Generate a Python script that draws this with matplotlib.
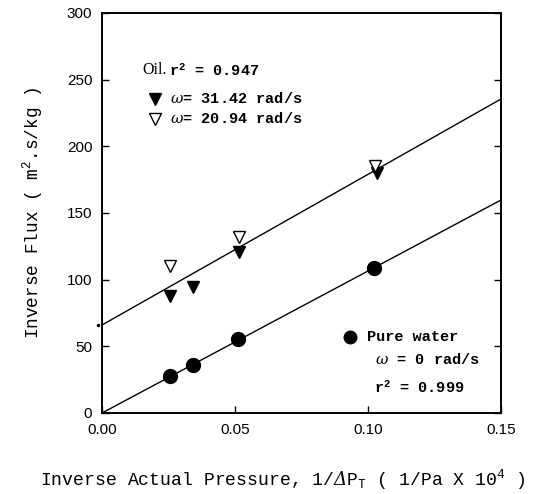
import numpy as np
import matplotlib
matplotlib.use("Agg")
import matplotlib.pyplot as plt

plt.rcParams["mathtext.fontset"] = "custom"
plt.rcParams["mathtext.rm"] = "Liberation Mono"
plt.rcParams["mathtext.it"] = "DejaVu Serif:italic"
plt.rcParams["mathtext.bf"] = "Liberation Mono:bold"
plt.rcParams["mathtext.sf"] = "DejaVu Serif:italic"

# Pure water, omega = 0 rad/s
water_x = [0.0256, 0.0342, 0.0513, 0.1021]
water_y = [27.5, 36.3, 55.5, 108.8]

# Oil, omega = 31.42 rad/s
oil_fast_x = [0.0256, 0.0342, 0.0516, 0.1034]
oil_fast_y = [88.0, 94.5, 120.8, 180.0]

# Oil, omega = 20.94 rad/s
oil_slow_x = [0.0256, 0.0516, 0.1028]
oil_slow_y = [110.0, 132.0, 185.0]

# Fitted lines: intercept and slope
oil_fit = (66.0, 1130.0)
water_fit = (0.0, 1065.0)

x_ticks = [0.00, 0.05, 0.10, 0.15]
y_ticks = [0, 50, 100, 150, 200, 250, 300]

fig = plt.figure(figsize=(5.35, 4.94), dpi=100)
ax = fig.add_axes([0.1907, 0.164, 0.7458, 0.8097])

xf = np.array([0.0, 0.15])
for b0, b1 in (oil_fit, water_fit):
    ax.plot(xf, b0 + b1 * xf, color="black", lw=1.0, zorder=2)

ax.plot(water_x, water_y, "o", color="black", ms=10, zorder=3)
ax.plot(oil_fast_x, oil_fast_y, "v", color="black", ms=9, zorder=3)
ax.plot(oil_slow_x, oil_slow_y, "v", mfc="white", mec="black", mew=1.0,
        ms=9, zorder=4)
ax.plot([-0.0016], [oil_fit[0]], ".", color="black", ms=3, clip_on=False)

ax.set_xlim(0, 0.15)
ax.set_ylim(0, 300)
ax.set_xticks(x_ticks)
ax.set_xticklabels([f"{v:.2f}" for v in x_ticks])
ax.set_yticks(y_ticks)
ax.tick_params(direction="in", length=5, width=1.0, right=True, top=False,
               labelsize=11, colors="black")
ax.tick_params(axis="x", pad=7)
ax.tick_params(axis="y", pad=7)
for lab in ax.get_xticklabels() + ax.get_yticklabels():
    lab.set_family("Liberation Sans")
for s in ax.spines.values():
    s.set_linewidth(1.4)

mono = dict(family="Liberation Mono", color="black")
ax.set_xlabel(r"Inverse Actual Pressure, 1/$\mathsf{Δ}$P$_\mathrm{T}$ ( 1/Pa X 10$^\mathrm{4}$ )",
              fontsize=13.1, **mono)
ax.xaxis.label.set_va("center")
ax.xaxis.set_label_coords(0.4536, -0.1675)
ax.set_ylabel(r"Inverse Flux ( m$^\mathrm{2}$.s/kg )", fontsize=12.8, **mono)
ax.yaxis.label.set_va("center")
ax.yaxis.set_label_coords(-0.1732, 0.5)

# Oil legend block
ax.text(0.0151, 257, "Oil.", fontsize=11.5, va="center",
        family="Liberation Serif", color="black")
ax.text(0.0250, 257, r"r$^\mathbf{2}$ = 0.947", fontsize=11, va="center",
        fontweight="bold", **mono)
ax.plot([0.0198], [235.5], "v", color="black", ms=8)
ax.text(0.0255, 235.5, r"$\omega$= 31.42 rad/s", fontsize=11, va="center",
        fontweight="bold", **mono)
ax.plot([0.0198], [220.5], "v", mfc="white", mec="black", mew=1.0, ms=8)
ax.text(0.0255, 220.5, r"$\omega$= 20.94 rad/s", fontsize=11, va="center",
        fontweight="bold", **mono)

# Pure water legend block
ax.plot([0.0932], [57], "o", color="black", ms=9)
ax.text(0.0998, 57, "Pure water", fontsize=11, va="center",
        fontweight="bold", **mono)
ax.text(0.1028, 40, r"$\omega$ = 0 rad/s", fontsize=11, va="center",
        fontweight="bold", **mono)
ax.text(0.1024, 19, r"r$^\mathbf{2}$ = 0.999", fontsize=11, va="center",
        fontweight="bold", **mono)

fig.savefig("out.png", dpi=100)
